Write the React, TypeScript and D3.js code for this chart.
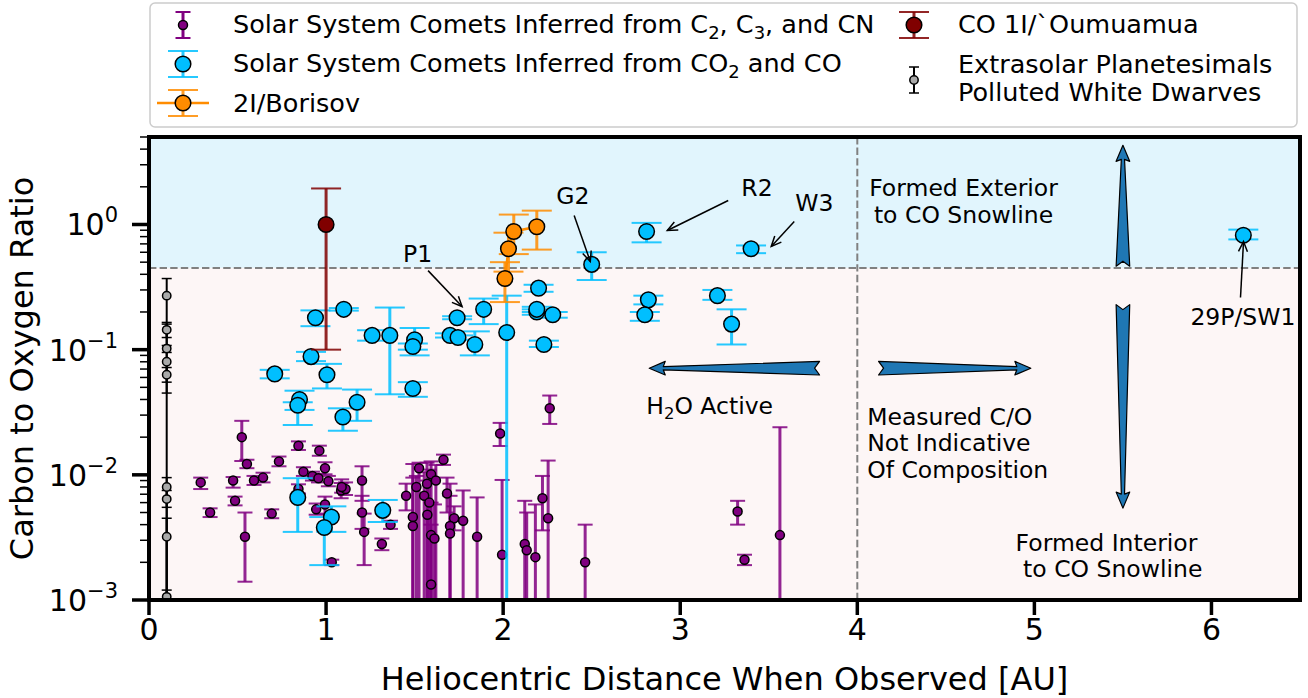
import * as d3 from 'd3';

type Pt = [number, number, number, number]; // distance [AU], C/O, lower, upper

const c2c3cnComets: Pt[] = [
  [0.524, 0.020, 0.0129, 0.027], [0.553, 0.0122, 0.0113, 0.0132], [0.844, 0.0171, 0.0158, 0.0185],
  [0.962, 0.0156, 0.0142, 0.0171], [0.734, 0.0128, 0.0117, 0.014], [0.872, 0.0106, 0.0098, 0.0115],
  [0.994, 0.0113, 0.0101, 0.0126], [0.923, 0.0098, 0.009, 0.0106], [0.957, 0.0094, 0.0087, 0.0102],
  [1.013, 0.0089, 0.0081, 0.0098], [0.644, 0.0095, 0.0087, 0.0104], [0.593, 0.009, 0.0083, 0.0098],
  [0.475, 0.009, 0.0079, 0.0096], [0.292, 0.0087, 0.0077, 0.0095], [0.844, 0.0077, 0.0071, 0.0084],
  [1.085, 0.0075, 0.0065, 0.0086], [1.11, 0.0077, 0.0069, 0.0087], [1.088, 0.008, 0.0072, 0.0092],
  [1.203, 0.009, 0.0062, 0.0117], [1.203, 0.005, 0.0037, 0.0068], [1.215, 0.0035, 0.0019, 0.0049],
  [0.486, 0.0062, 0.0057, 0.0067], [0.345, 0.005, 0.0046, 0.0054], [0.693, 0.0049, 0.0045, 0.0053],
  [0.542, 0.0032, 0.0014, 0.005], [0.994, 0.0058, 0.0049, 0.0067], [0.944, 0.0053, 0.0048, 0.0059],
  [1.032, 0.002, 0.0019, 0.0021], [1.315, 0.0028, 0.0025, 0.0031], [1.364, 0.004, 0.0037, 0.0043],
  [1.452, 0.0068, 0.0052, 0.0085], [1.49, 0.0046, 0.0001, 0.0122], [1.49, 0.0039, 0.0001, 0.0095],
  [1.525, 0.0113, 0.0001, 0.0125], [1.51, 0.008, 0.0001, 0.0098], [1.57, 0.0085, 0.0001, 0.0125],
  [1.593, 0.0101, 0.0001, 0.0128], [1.62, 0.009, 0.0001, 0.012], [1.554, 0.0068, 0.0001, 0.0105],
  [1.583, 0.006, 0.0001, 0.011], [1.572, 0.0048, 0.0001, 0.009], [1.593, 0.0033, 0.0001, 0.006],
  [1.612, 0.0031, 0.0001, 0.0058], [1.593, 0.00133, 0.0001, 0.004], [1.663, 0.0132, 0.012, 0.0145],
  [1.683, 0.0071, 0.005, 0.0095], [1.723, 0.0045, 0.0036, 0.0056], [1.774, 0.0043, 0.0001, 0.0075],
  [1.70, 0.0039, 0.0001, 0.0085], [1.70, 0.0034, 0.0001, 0.0068], [1.853, 0.0032, 0.0001, 0.0066],
  [1.983, 0.0214, 0.017, 0.026], [2.263, 0.034, 0.0255, 0.043], [1.994, 0.0023, 0.0001, 0.0091],
  [2.122, 0.0028, 0.0001, 0.0062], [2.133, 0.0025, 0.0001, 0.005], [2.182, 0.0022, 0.0001, 0.0058],
  [2.222, 0.0065, 0.0036, 0.0098], [2.254, 0.0045, 0.0001, 0.013], [2.463, 0.002, 0.0001, 0.004],
  [3.324, 0.0051, 0.004, 0.0062], [3.363, 0.0021, 0.0019, 0.0023], [3.563, 0.0033, 0.0001, 0.024],
];

const co2coComets: Pt[] = [
  [0.94, 0.18, 0.154, 0.206], [1.10, 0.21, 0.205, 0.215], [1.26, 0.13, 0.118, 0.143],
  [1.36, 0.13, 0.044, 0.217], [1.50, 0.12, 0.09, 0.149], [1.49, 0.106, 0.1, 0.112],
  [0.915, 0.088, 0.081, 0.096], [1.005, 0.063, 0.049, 0.077], [0.71, 0.064, 0.059, 0.069],
  [1.49, 0.049, 0.042, 0.055], [0.85, 0.04, 0.033, 0.047], [0.84, 0.036, 0.025, 0.038],
  [1.175, 0.038, 0.027, 0.048], [1.095, 0.029, 0.0225, 0.034], [0.84, 0.0066, 0.0035, 0.0094],
  [1.32, 0.0052, 0.0042, 0.0063], [1.03, 0.0046, 0.0035, 0.0056], [0.99, 0.0038, 0.0019, 0.0046],
  [1.74, 0.18, 0.175, 0.185], [1.89, 0.21, 0.16, 0.256], [1.70, 0.13, 0.125, 0.135],
  [1.745, 0.125, 0.12, 0.13], [1.84, 0.11, 0.09, 0.14], [2.02, 0.137, 0.0001, 0.27],
  [2.20, 0.31, 0.29, 0.33], [2.19, 0.20, 0.19, 0.21], [2.19, 0.21, 0.2, 0.22],
  [2.28, 0.19, 0.18, 0.2], [2.23, 0.11, 0.105, 0.118], [2.50, 0.48, 0.36, 0.6],
  [2.81, 0.88, 0.72, 1.03], [2.82, 0.25, 0.23, 0.27], [2.80, 0.19, 0.17, 0.2],
  [3.40, 0.64, 0.59, 0.68], [3.21, 0.27, 0.25, 0.3], [3.29, 0.16, 0.11, 0.21],
  [6.18, 0.82, 0.76, 0.91],
];

const borisov: Pt[] = [
  [2.01, 0.37, 0.24, 0.5], [2.03, 0.64, 0.42, 0.86], [2.06, 0.88, 0.58, 1.2], [2.19, 0.96, 0.63, 1.29],
];

const oumuamua: Pt[] = [[1.0, 1.0, 0.1, 1.94]];

const whiteDwarfs: Pt[] = [
  [0.1, 0.27, 0.045, 0.37], [0.1, 0.144, 0.125, 0.165], [0.1, 0.102, 0.095, 0.108],
  [0.1, 0.08, 0.001, 0.16], [0.1, 0.063, 0.055, 0.072], [0.1, 0.008, 0.001, 0.0095],
  [0.1, 0.0064, 0.0055, 0.0075], [0.1, 0.0032, 0.001, 0.0045], [0.1, 0.00106, 0.0009, 0.0012],
];

const xTicks = [0, 1, 2, 3, 4, 5, 6];
const yTicks = [1e-3, 1e-2, 1e-1, 1];
const coSnowline = 0.45;
const waterLimit = 4;

// text label, anchor position (data), arrow start, arrow end
const callouts = [
  { text: 'P1', tx: 1.435, ty: 0.506, sx: 1.576, sy: 0.428, ex: 1.768, ey: 0.221 },
  { text: 'G2', tx: 2.30, ty: 1.445, sx: 2.401, sy: 1.18, ex: 2.492, ey: 0.506 },
  { text: 'R2', tx: 3.345, ty: 1.675, sx: 3.271, sy: 1.556, ex: 2.927, ey: 0.895 },
  { text: 'W3', tx: 3.65, ty: 1.27, sx: 3.644, sy: 1.057, ex: 3.514, ey: 0.667 },
  { text: '29P/SW1', tx: 5.881, ty: 0.158, sx: 6.164, sy: 0.261, ex: 6.181, ey: 0.731 },
];

const regionLabels = [
  { lines: ['Formed Exterior', 'to CO Snowline'], x: 4.6, y: 1.675, anchor: 'middle' },
  { lines: ['Measured C/O', 'Not Indicative', 'Of Composition'], x: 4.056, y: 0.0251, anchor: 'start' },
  { lines: ['Formed Interior', '\u00a0to CO Snowline'], x: 4.894, y: 0.00247, anchor: 'start' },
];

// tail (notched, wide) -> tip
const regionArrows = [
  { x0: 3.787, y0: 0.0711, x1: 2.825, y1: 0.0711 },
  { x0: 4.12, y0: 0.0711, x1: 4.98, y1: 0.0711 },
  { x0: 5.5, y0: 0.464, x1: 5.5, y1: 4.29 },
  { x0: 5.5, y0: 0.229, x1: 5.5, y1: 0.00542 },
];

const FONT = 'DejaVu Sans';

function taperedArrow(ax: number, ay: number, bx: number, by: number) {
  const len = Math.hypot(bx - ax, by - ay);
  const ux = (bx - ax) / len, uy = (by - ay) / len;
  const nx = -uy, ny = ux;
  const wT = 6.8, wN = 1.6, wH = 6.8, hL = 14, notch = 5;
  const hx = bx - ux * hL, hy = by - uy * hL;
  const p = [
    [ax + nx * wT, ay + ny * wT],
    [hx + nx * wN, hy + ny * wN],
    [hx + nx * wH - ux * 2, hy + ny * wH - uy * 2],
    [bx, by],
    [hx - nx * wH - ux * 2, hy - ny * wH - uy * 2],
    [hx - nx * wN, hy - ny * wN],
    [ax - nx * wT, ay - ny * wT],
    [ax + ux * notch, ay + uy * notch],
  ];
  return 'M' + p.map(q => q.join(',')).join('L') + 'Z';
}

function ErrorSeries({ data, x, y, color, r, cap, barW, capW, barColor, line }: any) {
  const path = line ? d3.line<Pt>().x(d => x(d[0])).y(d => y(d[1]))(data) : null;
  return (
    <g>
      {data.map((d: Pt, i: number) => {
        const cx = x(d[0]);
        return (
          <g key={i} stroke={barColor || color}>
            <line x1={cx} x2={cx} y1={y(d[2])} y2={y(d[3])} strokeWidth={barW} />
            <line x1={cx - cap} x2={cx + cap} y1={y(d[2])} y2={y(d[2])} strokeWidth={capW} />
            <line x1={cx - cap} x2={cx + cap} y1={y(d[3])} y2={y(d[3])} strokeWidth={capW} />
          </g>
        );
      })}
      {path && <path d={path} fill="none" stroke={color} strokeWidth={2.5} />}
      {data.map((d: Pt, i: number) => (
        <circle key={'m' + i} cx={x(d[0])} cy={y(d[1])} r={r} fill={color} stroke="#000" strokeWidth={1.5} />
      ))}
    </g>
  );
}

function LegendMark({ cx, cy, color, r, cap, half, barW, capW, line, barColor }: any) {
  return (
    <g>
      {line && <line x1={cx - 26} x2={cx + 26} y1={cy} y2={cy} stroke={color} strokeWidth={2.5} />}
      <g stroke={barColor || color}>
        <line x1={cx} x2={cx} y1={cy - half} y2={cy + half} strokeWidth={barW} />
        <line x1={cx - cap} x2={cx + cap} y1={cy - half} y2={cy - half} strokeWidth={capW} />
        <line x1={cx - cap} x2={cx + cap} y1={cy + half} y2={cy + half} strokeWidth={capW} />
      </g>
      <circle cx={cx} cy={cy} r={r} fill={color} stroke="#000" strokeWidth={1.5} />
    </g>
  );
}

export default function App() {
  const left = 149, right = 1300, top = 137, bottom = 600;
  const x = d3.scaleLinear().domain([0, 6.5]).range([left, right]);
  const y = d3.scaleLog().domain([1e-3, 5]).range([bottom, top]);

  const minorY: number[] = [];
  for (let e = -3; e <= 0; e++) for (let k = 2; k <= 9; k++) {
    const v = k * Math.pow(10, e);
    if (v <= 5) minorY.push(v);
  }

  const expLabel = (v: number) => {
    const e = Math.round(Math.log10(v));
    return e < 0 ? '\u2212' + Math.abs(e) : String(e);
  };

  const ySnow = y(coSnowline);

  return (
    <svg width={1308} height={698} style={{ position: 'absolute', left: 0, top: 0 }} fontFamily={FONT}>
      <defs>
        <clipPath id="plot">
          <rect x={left} y={top} width={right - left} height={bottom - top} />
        </clipPath>
      </defs>
      <rect width={1308} height={698} fill="#fff" />
      <g clipPath="url(#plot)">
        <rect x={left} y={top} width={right - left} height={ySnow - top} fill="#e1f5fd" />
        <rect x={left} y={ySnow} width={right - left} height={bottom - ySnow} fill="#fdf6f6" />
        <line x1={left} x2={right} y1={ySnow} y2={ySnow} stroke="#808080" strokeWidth={2} strokeDasharray="7.4,3.2" />
        <line x1={x(waterLimit)} x2={x(waterLimit)} y1={top} y2={bottom} stroke="#808080" strokeWidth={2} strokeDasharray="7.4,3.2" />

        <ErrorSeries data={c2c3cnComets} x={x} y={y} color="#800080" r={4.5} cap={7.5} barW={3} capW={2} barColor="rgba(128,0,128,0.85)" />
        <ErrorSeries data={co2coComets} x={x} y={y} color="#00bfff" r={7.8} cap={15} barW={3} capW={2} barColor="rgba(0,191,255,0.85)" />
        <ErrorSeries data={borisov} x={x} y={y} color="#ff8c00" r={7.8} cap={15} barW={3} capW={2} barColor="rgba(255,140,0,0.85)" line />
        <ErrorSeries data={oumuamua} x={x} y={y} color="#800000" r={7.8} cap={15} barW={3} capW={2} barColor="rgba(128,0,0,0.85)" />
        <ErrorSeries data={whiteDwarfs} x={x} y={y} color="#a9a9a9" r={4.2} cap={5} barW={2} capW={1.5} barColor="#000" />

        {regionArrows.map((a, i) => (
          <path key={i} d={taperedArrow(x(a.x0), y(a.y0), x(a.x1), y(a.y1))} fill="#1f77b4" stroke="#000" strokeWidth={1.2} strokeLinejoin="round" />
        ))}
      </g>

      {callouts.map((c, i) => {
        const sx = x(c.sx), sy = y(c.sy), ex = x(c.ex), ey = y(c.ey);
        const ang = Math.atan2(ey - sy, ex - sx);
        const L = 11, a = 0.42;
        const h1 = [ex - L * Math.cos(ang - a), ey - L * Math.sin(ang - a)];
        const h2 = [ex - L * Math.cos(ang + a), ey - L * Math.sin(ang + a)];
        return (
          <g key={i}>
            <line x1={sx} y1={sy} x2={ex} y2={ey} stroke="#000" strokeWidth={1.5} />
            <polyline points={`${h1.join(',')} ${ex},${ey} ${h2.join(',')}`} fill="none" stroke="#000" strokeWidth={1.5} />
            <text x={x(c.tx)} y={y(c.ty)} fontSize={23.5}>{c.text}</text>
          </g>
        );
      })}

      <text x={x(2.808)} y={y(0.0308)} fontSize={23.5}>
        H<tspan fontSize={16.5} dy={5}>2</tspan><tspan dy={-5}>O Active</tspan>
      </text>

      {regionLabels.map((l, i) => (
        <text key={i} x={x(l.x)} y={y(l.y)} fontSize={23.5} textAnchor={l.anchor as any}>
          {l.lines.map((s, j) => (
            <tspan key={j} x={x(l.x)} dy={j === 0 ? 0 : 26.6}>{s}</tspan>
          ))}
        </text>
      ))}

      {/* frame */}
      <rect x={left} y={top} width={right - left} height={bottom - top} fill="none" stroke="#000" strokeWidth={4} />

      {/* y axis ticks */}
      {minorY.map((v, i) => (
        <line key={i} x1={left - 9} x2={left} y1={y(v)} y2={y(v)} stroke="#000" strokeWidth={1.5} />
      ))}
      {yTicks.map((v, i) => (
        <g key={i}>
          <line x1={left - 17} x2={left} y1={y(v)} y2={y(v)} stroke="#000" strokeWidth={3.5} />
          <text x={118} y={y(v) + 11} fontSize={30} textAnchor="end">
            10<tspan fontSize={21} dy={-13}>{expLabel(v)}</tspan>
          </text>
        </g>
      ))}
      {/* x axis ticks */}
      {xTicks.map((v, i) => (
        <g key={i}>
          <line x1={x(v)} x2={x(v)} y1={bottom} y2={bottom + 15} stroke="#000" strokeWidth={3.5} />
          <text x={x(v)} y={640} fontSize={30} textAnchor="middle">{v}</text>
        </g>
      ))}

      <text x={(left + right) / 2} y={690} fontSize={32} textAnchor="middle">Heliocentric Distance When Observed [AU]</text>
      <text transform={`translate(33,${(top + bottom) / 2}) rotate(-90)`} fontSize={32} textAnchor="middle">Carbon to Oxygen Ratio</text>

      {/* legend */}
      <g>
        <rect x={150} y={3} width={1147} height={124} rx={5} fill="#fff" stroke="#cccccc" strokeWidth={1.5} />
        <LegendMark cx={183} cy={25} color="#800080" r={4.5} cap={7.5} half={13} barW={3} capW={2} />
        <LegendMark cx={183} cy={64} color="#00bfff" r={7.8} cap={15} half={13} barW={3} capW={2} barColor="rgba(0,191,255,0.85)" />
        <LegendMark cx={183} cy={103} color="#ff8c00" r={7.8} cap={15} half={13} barW={3} capW={2} line barColor="rgba(255,140,0,0.85)" />
        <LegendMark cx={914} cy={25} color="#800000" r={7.8} cap={15} half={13} barW={3} capW={2} barColor="rgba(128,0,0,0.85)" />
        <LegendMark cx={914} cy={80} color="#a9a9a9" r={4.2} cap={5} half={13} barW={2} capW={1.5} barColor="#000" />
        <g fontSize={25.5}>
          <text x={233} y={33}>
            Solar System Comets Inferred from C<tspan fontSize={18} dy={6}>2</tspan>
            <tspan dy={-6}>, C</tspan><tspan fontSize={18} dy={6}>3</tspan>
            <tspan dy={-6}>, and CN</tspan>
          </text>
          <text x={233} y={72}>
            Solar System Comets Inferred from CO<tspan fontSize={18} dy={6}>2</tspan>
            <tspan dy={-6}> and CO</tspan>
          </text>
          <text x={233} y={112}>2I/Borisov</text>
          <text x={958} y={33}>CO 1I/`Oumuamua</text>
          <text x={958} y={73}>Extrasolar Planetesimals</text>
          <text x={958} y={101}>Polluted White Dwarves</text>
        </g>
      </g>
    </svg>
  );
}
